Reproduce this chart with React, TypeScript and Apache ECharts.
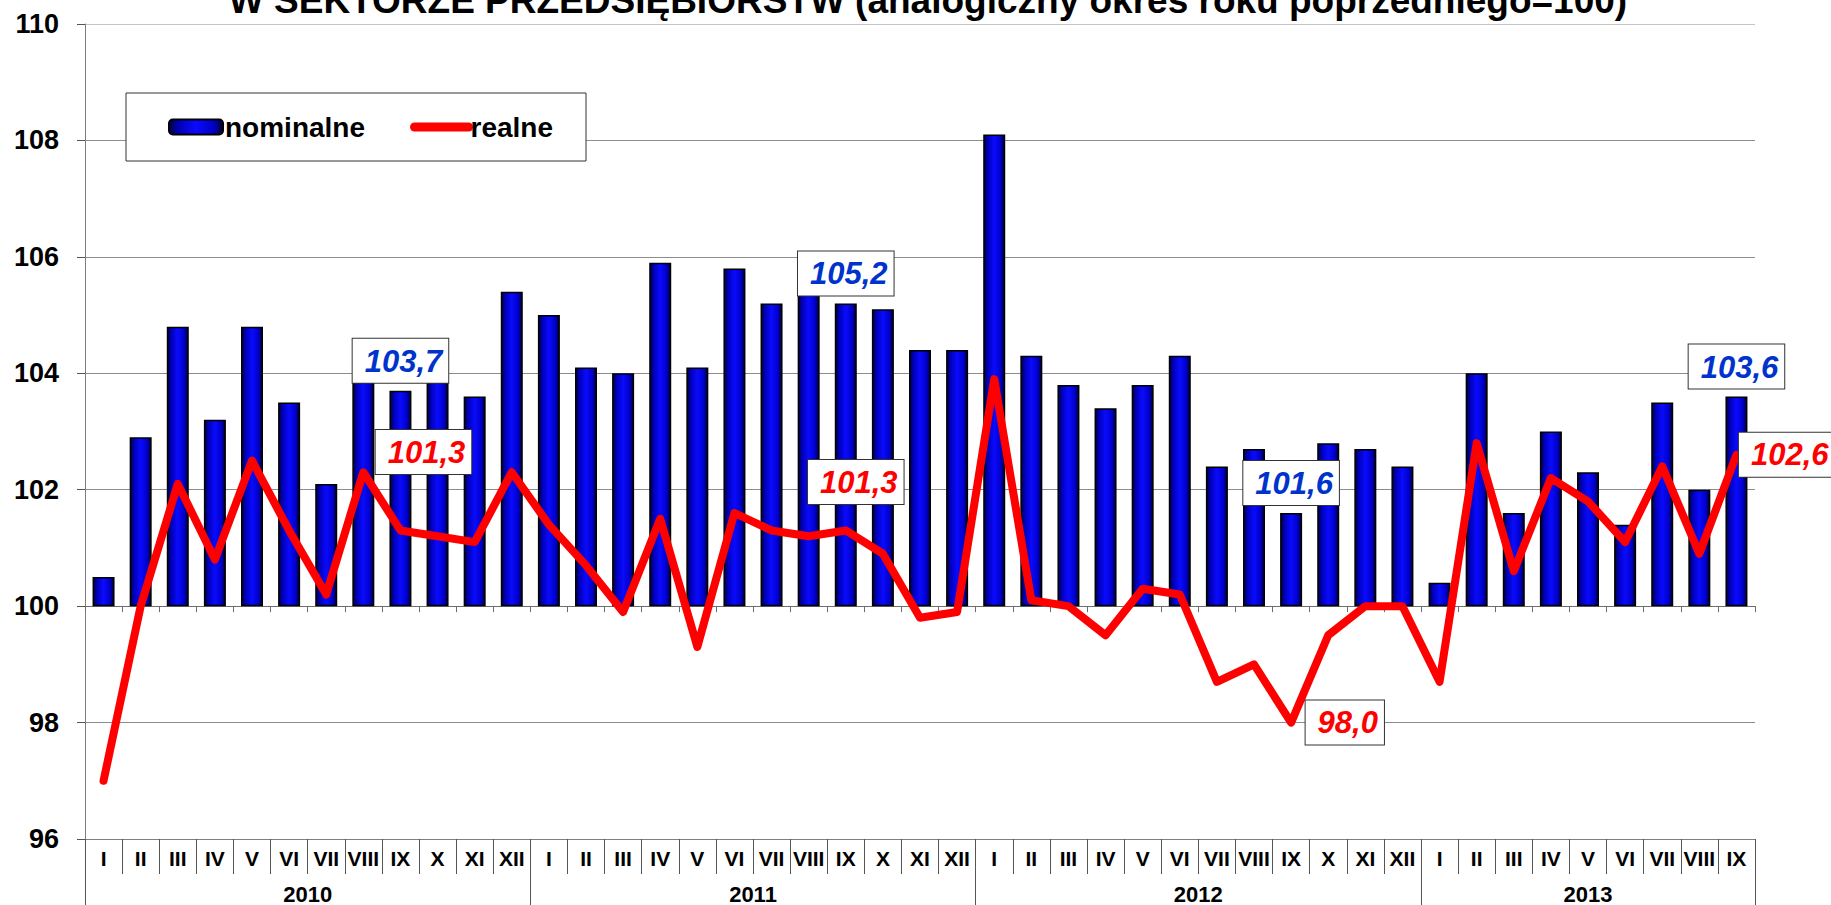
import React, { useEffect, useRef } from 'react';
import * as echarts from 'echarts';

// ---- data ----
const months = ['I', 'II', 'III', 'IV', 'V', 'VI', 'VII', 'VIII', 'IX', 'X', 'XI', 'XII'];
const years = ['2010', '2011', '2012', '2013'];
const monthsPerYear = [12, 12, 12, 9];

const nominal = [
  100.5, 102.9, 104.8, 103.2, 104.8, 103.5, 102.1, 104.2, 103.7, 104.0, 103.6, 105.4,
  105.0, 104.1, 104.0, 105.9, 104.1, 105.8, 105.2, 105.4, 105.2, 105.1, 104.4, 104.4,
  108.1, 104.3, 103.8, 103.4, 103.8, 104.3, 102.4, 102.7, 101.6, 102.8, 102.7, 102.4,
  100.4, 104.0, 101.6, 103.0, 102.3, 101.4, 103.5, 102.0, 103.6,
];
const real = [
  97.0, 100.0, 102.1, 100.8, 102.5, 101.3, 100.2, 102.3, 101.3, 101.2, 101.1, 102.3,
  101.4, 100.7, 99.9, 101.5, 99.3, 101.6, 101.3, 101.2, 101.3, 100.9, 99.8, 99.9,
  103.9, 100.1, 100.0, 99.5, 100.3, 100.2, 98.7, 99.0, 98.0, 99.5, 100.0, 100.0,
  98.7, 102.8, 100.6, 102.2, 101.8, 101.1, 102.4, 100.9, 102.6,
];
const labelledIdx = [8, 20, 32, 44]; // September of every year
const BASE = 100;
const yMin = 96;
const yMax = 110;
const yStep = 2;
const seriesNames = ['nominalne', 'realne'];
const titleText = 'W SEKTORZE PRZEDSIĘBIORSTW (analogiczny okres roku poprzedniego=100)';

// ---- layout / style ----
const W = 1831;
const H = 905;
const GRID = { left: 85, right: 76, top: 24, bottom: 66 };
const FONT = '"Liberation Sans", Arial, sans-serif';

const categories: string[] = [];
const yearOfIdx: number[] = [];
monthsPerYear.forEach((n, y) => {
  for (let m = 0; m < n; m++) {
    categories.push(months[m]);
    yearOfIdx.push(y);
  }
});
const yearStart: number[] = [];
monthsPerYear.reduce((acc, n) => {
  yearStart.push(acc);
  return acc + n;
}, 0);
const yearLabelIdx = monthsPerYear.map((n, y) => yearStart[y] + Math.floor((n - 1) / 2));
const bandW = (W - GRID.left - GRID.right) / categories.length;

const fmt = (v: number) => v.toFixed(1).replace('.', ',');

const boxLabel = (color: string) => ({
  show: true,
  color,
  fontFamily: FONT,
  fontSize: 31,
  fontWeight: 'bold',
  fontStyle: 'italic',
  lineHeight: 31,
  backgroundColor: '#ffffff',
  borderColor: '#333333',
  borderWidth: 1,
  padding: [7, 6, 6, 12],
});

// label placement for the highlighted real values (style only)
const realLabelPlacement: Record<number, any> = {
  8: { position: 'top', distance: 56, offset: [23, 0] },
  20: { position: 'top', distance: 26, offset: [10, 0] },
  32: { position: 'right', distance: 14 },
  44: { position: 'right', distance: 2 },
};

export default function App() {
  const ref = useRef<HTMLDivElement>(null);

  useEffect(() => {
    document.body.style.margin = '0';
    if (!ref.current) return;
    const chart = echarts.init(ref.current, null, { renderer: 'svg' });

    const barData = nominal.map((v, i) => {
      const item: any = { value: v - BASE };
      if (labelledIdx.includes(i)) {
        item.label = {
          ...boxLabel('#0033cc'),
          position: 'top',
          distance: 8,
          formatter: () => fmt(nominal[i]),
        };
      }
      return item;
    });

    const lineData = real.map((v, i) => {
      const item: any = { value: v - BASE };
      if (labelledIdx.includes(i)) {
        item.label = {
          ...boxLabel('#ff0000'),
          ...realLabelPlacement[i],
          formatter: () => fmt(real[i]),
        };
      }
      return item;
    });

    const gridLineColors: string[] = [];
    for (let v = yMin; v <= yMax; v += yStep) gridLineColors.push(v === yMax ? '#c4c4c4' : '#8c8c8c');

    const option: any = {
      animation: false,
      backgroundColor: '#ffffff',
      textStyle: { fontFamily: FONT },
      graphic: [
        {
          type: 'text',
          x: 928,
          y: 19,
          style: {
            text: titleText,
            fill: '#000000',
            fontFamily: FONT,
            fontSize: 37,
            fontWeight: 'bold',
            align: 'center',
            verticalAlign: 'bottom',
          },
        },
      ],
      legend: {
        left: 126,
        top: 93,
        orient: 'horizontal',
        backgroundColor: '#ffffff',
        borderColor: '#333333',
        borderWidth: 1,
        borderRadius: 0,
        padding: [20, 33, 20, 42],
        itemWidth: 54,
        itemHeight: 15,
        itemGap: 45,
        textStyle: { fontFamily: FONT, fontSize: 28, fontWeight: 'bold', color: '#000000', padding: [0, 0, 0, -3] },
        data: [
          { name: seriesNames[0] },
          { name: seriesNames[1], itemStyle: { opacity: 0 }, lineStyle: { width: 9, cap: 'round', color: '#ff0000' } },
        ],
      },
      grid: { ...GRID, containLabel: false },
      xAxis: [
        {
          type: 'category',
          data: categories,
          position: 'bottom',
          axisLine: { onZero: true, lineStyle: { color: '#6e6e6e', width: 1 } },
          axisTick: { show: true, interval: 0, length: 6, lineStyle: { color: '#6e6e6e' } },
          axisLabel: { show: false },
          splitLine: { show: false },
        },
        {
          type: 'category',
          data: categories,
          position: 'bottom',
          axisLine: { onZero: false, lineStyle: { color: '#808080', width: 1 } },
          axisTick: { show: true, interval: 0, length: 35, lineStyle: { color: '#555555' } },
          axisLabel: {
            interval: 0,
            margin: 9,
            color: '#000000',
            fontFamily: FONT,
            fontSize: 21,
            fontWeight: 'bold',
          },
          splitLine: { show: false },
        },
        {
          type: 'category',
          data: categories,
          position: 'bottom',
          axisLine: { show: false, onZero: false },
          axisTick: {
            show: true,
            length: 70,
            interval: (idx: number) => yearStart.includes(idx),
            lineStyle: { color: '#555555' },
          },
          axisLabel: {
            margin: 44,
            interval: (idx: number) => yearLabelIdx.includes(idx),
            formatter: (_v: string, idx: number) => {
              const y = yearOfIdx[idx];
              return monthsPerYear[y] % 2 === 0 ? `{s|${years[y]}}` : `{n|${years[y]}}`;
            },
            rich: {
              s: { padding: [0, 0, 0, bandW], color: '#000', fontFamily: FONT, fontSize: 22, fontWeight: 'bold' },
              n: { color: '#000', fontFamily: FONT, fontSize: 22, fontWeight: 'bold' },
            },
          },
          splitLine: { show: false },
        },
      ],
      yAxis: {
        type: 'value',
        min: yMin - BASE,
        max: yMax - BASE,
        interval: yStep,
        axisLine: { show: true, lineStyle: { color: '#808080', width: 1 } },
        axisTick: { show: true, inside: false, length: 8, lineStyle: { color: '#555555' } },
        axisLabel: {
          margin: 26,
          color: '#000000',
          fontFamily: FONT,
          fontSize: 27,
          fontWeight: 'bold',
          formatter: (v: number) => String(Math.round(v + BASE)),
        },
        splitLine: { show: true, lineStyle: { color: gridLineColors, width: 1 } },
      },
      series: [
        {
          name: seriesNames[0],
          type: 'bar',
          xAxisIndex: 0,
          barWidth: 22,
          z: 2,
          itemStyle: {
            color: new echarts.graphic.LinearGradient(0, 0, 1, 0, [
              { offset: 0, color: '#00003a' },
              { offset: 0.18, color: '#0000b8' },
              { offset: 0.5, color: '#0a0aff' },
              { offset: 0.82, color: '#0000c8' },
              { offset: 1, color: '#00002a' },
            ]),
            borderColor: '#000000',
            borderWidth: 1.5,
          },
          data: barData,
        },
        {
          name: seriesNames[1],
          type: 'line',
          xAxisIndex: 0,
          z: 3,
          symbol: 'circle',
          symbolSize: 1,
          showSymbol: true,
          itemStyle: { color: '#ff0000' },
          lineStyle: { color: '#ff0000', width: 8, join: 'round', cap: 'round' },
          data: lineData,
        },
      ],
    };

    chart.setOption(option);
    return () => chart.dispose();
  }, []);

  return <div ref={ref} style={{ position: 'absolute', left: 0, top: 0, width: W, height: H }} />;
}
